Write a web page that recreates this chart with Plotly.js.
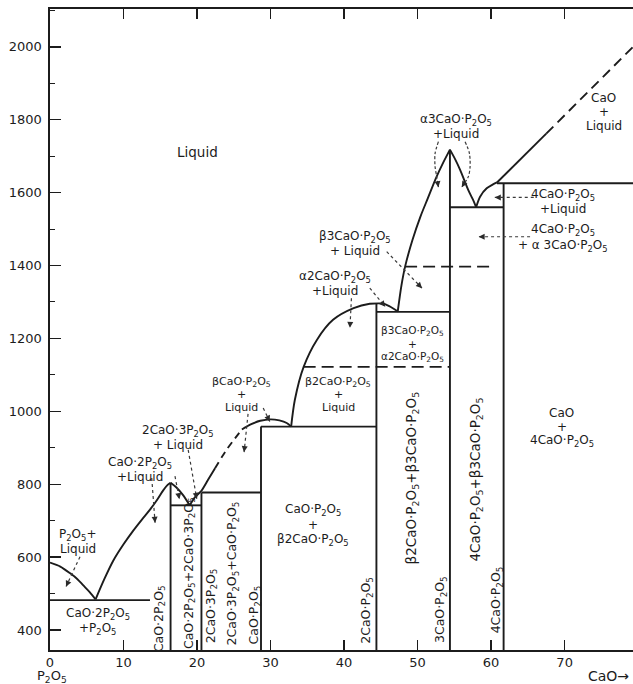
<!DOCTYPE html>
<html><head><meta charset="utf-8">
<script src="https://cdn.plot.ly/plotly-3.0.1.min.js"></script>
<style>html,body{margin:0;padding:0;background:#fff;overflow:hidden}</style>
</head><body><div id="chart" style="width:633px;height:684px"></div>
<script>
// ---------- axis ticks ----------
const xTickVals = [0, 10, 20, 30, 40, 50, 60, 70];
const yTickVals = [400, 600, 800, 1000, 1200, 1400, 1600, 1800, 2000];

// ---------- liquidus curves: wt% CaO and temperature (°C) ----------
const liqA_x = [0, 1.4, 2.7, 3.7, 4.5, 5.4, 6.2];
const liqA_T = [585, 574, 556, 540, 523, 504, 484];
const liqB_x = [6.2, 7.4, 8.6, 10.0, 11.3, 12.5, 13.6, 14.6, 15.4, 16.0, 16.4];
const liqB_T = [484, 540, 590, 635, 672, 703, 730, 758, 783, 798, 804];
const liqC_x = [16.4, 17.2, 18.1, 19.0];
const liqC_T = [804, 791, 770, 742];
const liqD_x = [19.0, 19.7, 20.6, 21.5, 22.45];
const liqD_T = [742, 764, 782, 812, 844];
const liqDdash_x = [22.45, 24.0, 26.1];
const liqDdash_T = [844, 894, 950];
const liqE_x = [26.1, 27.3, 28.6, 30.0, 31.2, 32.2, 32.8];
const liqE_T = [950, 964, 974, 978, 975, 968, 958];
const liqF_x = [32.8, 33.3, 34.5, 36.3, 38.5, 41.3, 43.5, 45.3];
const liqF_T = [958, 1031, 1122, 1196, 1251, 1283, 1295, 1296];
const liqF2_x = [45.3, 46.3, 47.3];
const liqF2_T = [1296, 1287, 1274];
const liqG_x = [47.3, 47.8, 48.3, 49.3, 50.4, 51.4, 52.5, 53.5, 54.4];
const liqG_T = [1274, 1345, 1397, 1470, 1535, 1585, 1640, 1683, 1718];
const liqH_x = [54.4, 55.1, 55.8, 56.9, 57.5, 57.96];
const liqH_T = [1718, 1692, 1662, 1607, 1582, 1560];
const liqI_x = [57.96, 58.5, 59.4, 60.2, 60.8];
const liqI_T = [1560, 1589, 1612, 1622, 1628];
const liqK_x = [60.8, 67.5];
const liqK_T = [1628, 1762];
const liqJdash_x = [67.5, 79.3];
const liqJdash_T = [1762, 2000];

// ---------- isotherms ----------
const isoT     = [482, 742, 777, 958, 1273, 1560, 1626];
const isoXfrom = [0, 16.4, 20.6, 28.7, 44.4, 54.4, 60.8];
const isoXto   = [13.6, 20.6, 28.7, 44.4, 54.4, 61.7, 79.3];
const dashIsoT     = [1122, 1397];
const dashIsoXfrom = [34.5, 48.3];
const dashIsoXto   = [54.4, 60.5];

// ---------- compounds (vertical lines) ----------
const compX   = [16.4, 20.6, 28.7, 44.4, 54.4, 61.7];
const compTop = [804, 777, 958, 1296, 1718, 1626];

// ---------- label texts ----------
const P = 'P<sub>2</sub>O<sub>5</sub>';
const fieldTexts = [
  [P + '+', 'Liquid'],
  ['CaO·2' + P, '+' + P],
  ['CaO·2' + P, '+Liquid'],
  ['2CaO·3' + P, '+ Liquid'],
  ['βCaO·' + P, '+', 'Liquid'],
  ['α2CaO·' + P, '+Liquid'],
  ['β3CaO·' + P, '+ Liquid'],
  ['α3CaO·' + P, '+Liquid'],
  ['CaO', '+', 'Liquid'],
  ['4CaO·' + P, '+Liquid'],
  ['4CaO·' + P, '+ α 3CaO·' + P],
  ['β3CaO·' + P, '+', 'α2CaO·' + P],
  ['β2CaO·' + P, '+', 'Liquid'],
  ['CaO·' + P, '+', 'β2CaO·' + P],
  ['CaO', '+', '4CaO·' + P]
];
const verticalTexts = [
  'CaO·2' + P,
  'CaO·2' + P + '+2CaO·3' + P,
  '2CaO·3' + P,
  '2CaO·3' + P + '+CaO·' + P,
  'CaO·' + P,
  '2CaO·' + P,
  'β2CaO·' + P + '+β3CaO·' + P,
  '3CaO·' + P,
  '4CaO·' + P + '+β3CaO·' + P,
  '4CaO·' + P
];

// ---------- layout geometry ----------
const xRange = [0, 79.3];
const yRange = [345, 2104];
const M = {l: 50, r: 0, t: 9, b: 34};
const W = 633, H = 684;
const pxX = (W - M.l - M.r) / (xRange[1] - xRange[0]);
const pxT = (H - M.t - M.b) / (yRange[1] - yRange[0]);

const FONT = 'DejaVu Sans, Liberation Sans, sans-serif';
const INK = '#1c1c1c';

// placement of field labels: [x, T, line spacing px, font size]
const fieldPlace = [
  [3.8, 641, 14, 12], [6.5, 422, 15, 12], [12.25, 839, 13.5, 12], [17.4, 927, 13.5, 12],
  [26.0, 1045, 13, 11], [38.8, 1350, 14, 12], [41.5, 1459, 13.5, 12], [55.2, 1780, 14, 12],
  [75.3, 1820, 14, 12], [69.8, 1575, 13.5, 12], [69.8, 1475, 16, 12], [49.3, 1186, 13, 10.5],
  [39.2, 1045, 13, 11], [35.8, 688, 15, 12], [69.6, 956, 14, 12]
];
// placement of rotated labels: [x, T, font size]
const vertPlace = [
  [14.8, 432, 12.5], [18.9, 556, 12.5], [21.9, 465, 12.5], [24.8, 556, 12.5], [27.8, 441, 12.5],
  [43.1, 455, 12.5], [49.3, 817, 13.5], [53.2, 455, 12.5], [57.9, 812, 13.5], [60.7, 482, 12.5]
];
// leader paths (last point = arrow tip) and line style
const leaders = [
  {pts: [[4.08, 601], [2.18, 519]], dash: 'dot'},
  {pts: [[13.84, 817], [14.29, 694]], dash: 'dot'},
  {pts: [[17.0, 822], [17.6, 759]], dash: 'dot'},
  {pts: [[18.8, 894], [19.96, 760]], dash: 'dot'},
  {pts: [[26.94, 993], [26.4, 888]], dash: 'dot'},
  {pts: [[29.0, 1009], [29.9, 972]], dash: 'dot'},
  {pts: [[41.0, 1310], [40.8, 1229]], dash: 'dot'},
  {pts: [[43.5, 1338], [45.6, 1287]], dash: 'dot'},
  {pts: [[45.8, 1438], [50.6, 1338]], dash: 'dot'},
  {pts: [[52.83, 1740], [52.38, 1708], [52.38, 1671], [52.6, 1644], [52.83, 1615]], dash: '3px,2px'},
  {pts: [[56.46, 1740], [57.05, 1708], [57.14, 1671], [56.9, 1644], [56.0, 1615]], dash: '3px,2px'},
  {pts: [[65.8, 1587], [60.5, 1587]], dash: 'dot'},
  {pts: [[65.3, 1479], [58.3, 1479]], dash: 'dot'}
];

const traces = [];
function line(xs, ys, dash, width, color, smooth) {
  traces.push({x: xs, y: ys, mode: 'lines', type: 'scatter', hoverinfo: 'skip', showlegend: false,
    line: {color: color || INK, width: width || 1.9, dash: dash || 'solid',
      shape: smooth ? 'spline' : 'linear', smoothing: smooth ? 0.8 : undefined}});
}
[[liqA_x, liqA_T], [liqB_x, liqB_T], [liqC_x, liqC_T], [liqD_x, liqD_T], [liqE_x, liqE_T],
 [liqF_x, liqF_T], [liqF2_x, liqF2_T], [liqG_x, liqG_T], [liqH_x, liqH_T], [liqI_x, liqI_T]]
  .forEach(p => line(p[0], p[1], 'solid', 1.9, INK, true));
line(liqK_x, liqK_T);
line(liqDdash_x, liqDdash_T, '7px,5px', 1.9, INK, true);
line(liqJdash_x, liqJdash_T, '10px,6px');
isoT.forEach((t, i) => line([isoXfrom[i], isoXto[i]], [t, t]));
dashIsoT.forEach((t, i) => line([dashIsoXfrom[i], dashIsoXto[i]], [t, t], '12px,6px'));
compX.forEach((c, i) => line([c, c], [yRange[0], compTop[i]]));

const annotations = [];
leaders.forEach(L => {
  line(L.pts.map(p => p[0]), L.pts.map(p => p[1]), L.dash, 1.2, '#3a3a3a', L.pts.length > 2);
  const tip = L.pts[L.pts.length - 1], prev = L.pts[L.pts.length - 2];
  const dx = (tip[0] - prev[0]) * pxX, dy = -(tip[1] - prev[1]) * pxT;
  const n = Math.hypot(dx, dy) || 1;
  annotations.push({x: tip[0], y: tip[1], xref: 'x', yref: 'y', text: '', showarrow: true,
    ax: -dx / n * 7, ay: -dy / n * 7, arrowhead: 2, arrowsize: 1, arrowwidth: 1.2,
    arrowcolor: '#2a2a2a', standoff: 0});
});

function textAnn(txt, x, y, size, yshift, angle) {
  annotations.push({x: x, y: y, xref: 'x', yref: 'y', text: txt, showarrow: false,
    font: {family: FONT, size: size, color: INK}, yshift: yshift || 0, textangle: angle || 0,
    xanchor: 'center', yanchor: 'middle'});
}
textAnn('Liquid', 20, 1712, 13.5, 0, 0);
fieldTexts.forEach((lines, i) => {
  const [x, T, sp, fs] = fieldPlace[i];
  const n = lines.length;
  lines.forEach((s, j) => textAnn(s, x, T, fs, ((n - 1) / 2 - j) * sp, 0));
});
verticalTexts.forEach((s, i) => {
  const [x, T, fs] = vertPlace[i];
  textAnn(s, x, T, fs, 0, -90);
});
// axis end labels
annotations.push({x: 0.3, y: -0.042, xref: 'x', yref: 'paper', text: P, showarrow: false,
  font: {family: FONT, size: 13, color: INK}, xanchor: 'center', yanchor: 'middle'});
annotations.push({x: 75.9, y: -0.04, xref: 'x', yref: 'paper', text: 'CaO→', showarrow: false,
  font: {family: FONT, size: 14, color: INK}, xanchor: 'center', yanchor: 'middle'});
annotations.push({x: 80, y: -0.016, xref: 'x', yref: 'paper', text: '80', showarrow: false,
  font: {family: FONT, size: 13, color: INK}, xanchor: 'center', yanchor: 'middle'});

const layout = {
  width: W, height: H, margin: M, paper_bgcolor: '#fff', plot_bgcolor: '#fff',
  showlegend: false,
  xaxis: {range: xRange, tickvals: xTickVals, ticktext: xTickVals.map(String), ticks: 'inside',
    ticklen: 10, tickwidth: 1.3, tickcolor: INK, showline: true, linecolor: INK, linewidth: 1.6,
    mirror: 'ticks', showgrid: false, zeroline: false,
    tickfont: {family: FONT, size: 13, color: INK}},
  yaxis: {range: yRange, tickvals: yTickVals, ticktext: yTickVals.map(String), ticks: 'inside',
    ticklen: 11, tickwidth: 1.3, tickcolor: INK, showline: true, linecolor: INK, linewidth: 1.6,
    showgrid: false, zeroline: false, ticklabelstandoff: 4,
    minor: {dtick: 100, tick0: 0, ticks: 'inside', ticklen: 5, tickwidth: 1, tickcolor: INK, showgrid: false},
    tickfont: {family: FONT, size: 13, color: INK}},
  yaxis2: {range: yRange, overlaying: 'y', side: 'right', tickvals: yTickVals, ticks: 'inside',
    ticklen: 8, tickwidth: 1.2, tickcolor: INK, showticklabels: false, showline: false,
    showgrid: false, zeroline: false},
  annotations: annotations
};
Plotly.newPlot('chart', traces, layout, {staticPlot: true, displayModeBar: false});
</script></body></html>
